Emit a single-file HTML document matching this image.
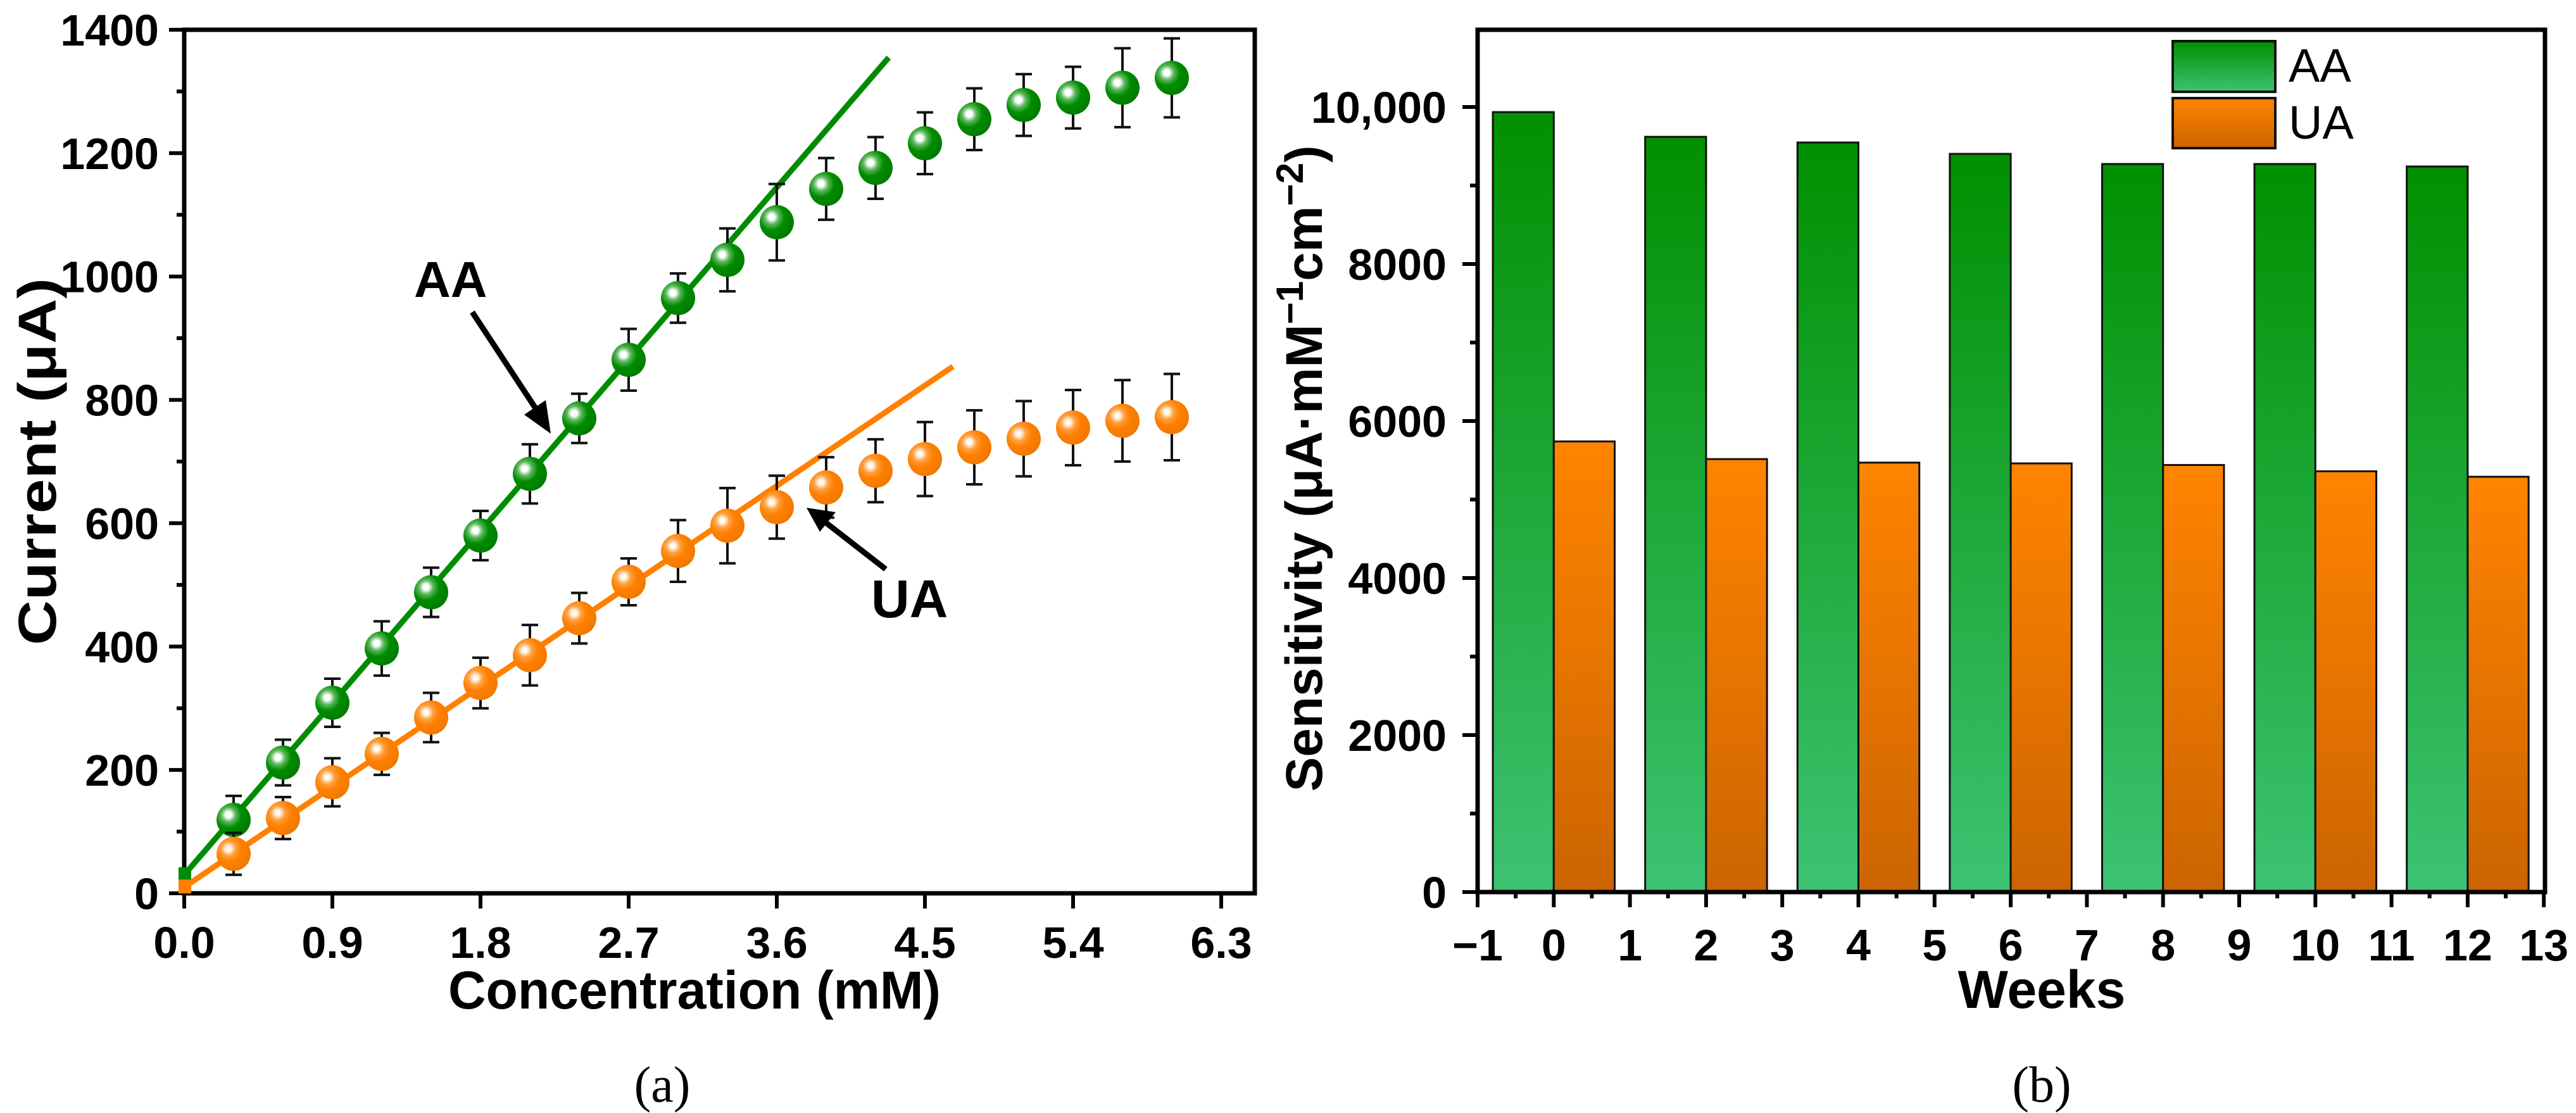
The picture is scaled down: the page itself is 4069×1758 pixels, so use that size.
<!DOCTYPE html>
<html>
<head>
<meta charset="utf-8">
<style>
html,body{margin:0;padding:0;background:#fff;}
svg{display:block;}
text{font-family:"Liberation Sans",Arial,sans-serif;}
</style>
</head>
<body>
<svg id="fig" xmlns="http://www.w3.org/2000/svg" width="4069" height="1758" viewBox="0 0 4069 1758">
<defs>
  <radialGradient id="gBall" cx="0.35" cy="0.35" r="0.7">
    <stop offset="0" stop-color="#ffffff"/>
    <stop offset="0.12" stop-color="#ffffff"/>
    <stop offset="0.3" stop-color="#5cb85c"/>
    <stop offset="0.55" stop-color="#008c00"/>
    <stop offset="1" stop-color="#007a00"/>
  </radialGradient>
  <radialGradient id="oBall" cx="0.35" cy="0.35" r="0.7">
    <stop offset="0" stop-color="#ffffff"/>
    <stop offset="0.12" stop-color="#fff3e0"/>
    <stop offset="0.3" stop-color="#ffa040"/>
    <stop offset="0.55" stop-color="#ff8000"/>
    <stop offset="1" stop-color="#f07800"/>
  </radialGradient>
  <linearGradient id="gBar" x1="0" y1="0" x2="0" y2="1">
    <stop offset="0" stop-color="#009000"/>
    <stop offset="1" stop-color="#3cc373"/>
  </linearGradient>
  <linearGradient id="oBar" x1="0" y1="0" x2="0" y2="1">
    <stop offset="0" stop-color="#ff8400"/>
    <stop offset="1" stop-color="#cc6400"/>
  </linearGradient>
</defs>
<g id="left"></g>
<g id="right"></g>
</svg>
<script>
// ---------- Panel (a) data ----------
const concX = [0,0.3,0.6,0.9,1.2,1.5,1.8,2.1,2.4,2.7,3.0,3.3,3.6,3.9,4.2,4.5,4.8,5.1,5.4,5.7,6.0];
const aaCurrent = [30,119,212,309,397,488,580,680,770,865,965,1027,1088,1142,1176,1216,1255,1278,1290,1306,1322];
const aaErr = [0,39,37,39,44,40,40,48,40,50,40,51,62,50,50,50,50,50,50,64,64];
const uaCurrent = [10,64,122,180,226,285,341,386,446,505,555,596,626,658,685,704,723,737,755,766,772];
const uaErr = [0,34,34,39,34,40,41,49,41,38,50,61,51,49,51,60,60,61,61,66,70];
const aaFit = [[0,30],[4.28,1355]];
const uaFit = [[0,10],[4.67,854]];
const xTicksA = ["0.0","0.9","1.8","2.7","3.6","4.5","5.4","6.3"];
const yTicksA = ["0","200","400","600","800","1000","1200","1400"];

// ---------- Panel (b) data ----------
const weeks = [0,2,4,6,8,10,12];
const aaSens = [9935,9620,9548,9403,9274,9274,9242];
const uaSens = [5740,5515,5470,5460,5440,5360,5290];
const xTicksB = [-1,0,1,2,3,4,5,6,7,8,9,10,11,12,13];
const yTicksB = ["0","2000","4000","6000","8000","10,000"];

const NS = "http://www.w3.org/2000/svg";
function mk(tag, attrs, parent){
  const e = document.createElementNS(NS, tag);
  for (const k in attrs) e.setAttribute(k, attrs[k]);
  parent.appendChild(e);
  return e;
}

// ===== Panel (a) =====
const L = document.getElementById('left');


const ax0 = 291, ay0 = 1411, axEnd = 1982, ayTop = 47;
function XA(v){ return ax0 + v*260; }
function YA(v){ return ay0 - v*(ay0-ayTop)/1400; }

// frame
const frameA = mk('rect', {x:ax0, y:ayTop, width:axEnd-ax0, height:ay0-ayTop, fill:'none', stroke:'#000', 'stroke-width':7}, L);



// y ticks
for (let i=0;i<=14;i++){
  const v=i*100, y=YA(v);
  const major = i%2===0;
  const t = mk('line', {x1:ax0, x2:ax0-(major?24:12), y1:y, y2:y, stroke:'#000', 'stroke-width':6}, L);
  
  
}
yTicksA.forEach((lab,i)=>{
  const v=parseFloat(lab);
  const t = mk('text', {x:ax0-40, y:YA(v)+25, 'font-size':70, 'font-weight':'bold', 'text-anchor':'end'}, L);
  t.textContent = lab;
  
  
});
// x ticks
xTicksA.forEach((lab)=>{
  const v=parseFloat(lab), x=XA(v);
  const t = mk('line', {x1:x, x2:x, y1:ay0, y2:ay0+24, stroke:'#000', 'stroke-width':6}, L);
  
  
  const tl = mk('text', {x:x, y:1513, 'font-size':70, 'font-weight':'bold', 'text-anchor':'middle'}, L);
  tl.textContent = lab;
  
  
});
// axis titles
const xtA = mk('text', {x:1097, y:1593, 'font-size':84, 'font-weight':'bold', 'text-anchor':'middle', textLength:778, lengthAdjust:'spacingAndGlyphs'}, L);
xtA.textContent = 'Concentration (mM)';


const ytA = mk('text', {x:0, y:0, 'font-size':84, 'font-weight':'bold', 'text-anchor':'middle', transform:'translate(88,729) rotate(-90)', textLength:580, lengthAdjust:'spacingAndGlyphs'}, L);
ytA.textContent = 'Current (μA)';


const capA = mk('text', {x:1046, y:1740, 'font-size':80, 'text-anchor':'middle', style:'font-family:"Liberation Serif",serif'}, L);
capA.textContent = '(a)';



// fit lines
const fA = mk('line', {x1:XA(aaFit[0][0]), y1:YA(aaFit[0][1]), x2:XA(aaFit[1][0]), y2:YA(aaFit[1][1]), stroke:'#008c00', 'stroke-width':9}, L);


const fU = mk('line', {x1:XA(uaFit[0][0]), y1:YA(uaFit[0][1]), x2:XA(uaFit[1][0]), y2:YA(uaFit[1][1]), stroke:'#ff8000', 'stroke-width':9}, L);



function series(vals, errs, fill, name, first){
  concX.forEach((c,i)=>{
    const x=XA(c), y=YA(vals[i]);
    if (i===0){
      const m = mk('rect', {x:x-9, y:y-12, width:20, height:22, fill:first}, L);
      
      
      return;
    }
    const e = errs[i]*(ay0-ayTop)/1400;
    const g = mk('g', {stroke:'#111', 'stroke-width':4}, L);
    
    
    mk('line', {x1:x, x2:x, y1:y-e, y2:y+e}, g);
    mk('line', {x1:x-13, x2:x+13, y1:y-e, y2:y-e}, g);
    mk('line', {x1:x-13, x2:x+13, y1:y+e, y2:y+e}, g);
    const c2 = mk('circle', {cx:x, cy:y, r:27, fill:fill}, L);
    
    
  });
}
series(aaCurrent, aaErr, 'url(#gBall)', 'aa', '#008c00');
series(uaCurrent, uaErr, 'url(#oBall)', 'ua', '#ff8000');

// annotations
const aaLab = mk('text', {x:654, y:469, 'font-size':80, 'font-weight':'bold'}, L);
aaLab.textContent = 'AA';


const aaArrow = mk('g', {}, L);


mk('line', {x1:746, y1:493, x2:852, y2:654, stroke:'#000', 'stroke-width':9}, aaArrow);
mk('polygon', {points:'870,685 828,655 862,632', fill:'#000'}, aaArrow);
const uaLab = mk('text', {x:1376, y:975, 'font-size':84, 'font-weight':'bold'}, L);
uaLab.textContent = 'UA';


const uaArrow = mk('g', {}, L);


mk('line', {x1:1399, y1:899, x2:1300, y2:822, stroke:'#000', 'stroke-width':9}, uaArrow);
mk('polygon', {points:'1274,802 1320,809 1295,840', fill:'#000'}, uaArrow);

// ===== Panel (b) =====
const R = document.getElementById('right');


const bx0 = 2334, by0 = 1409, bxEnd = 4020, byTop = 47;
function XB(w){ return bx0 + (w+1)*120.3; }
function YB(s){ return by0 - s*0.124; }

const barW = 0.8;
weeks.forEach((w,i)=>{
  const a = mk('rect', {x:XB(w-barW), y:YB(aaSens[i]), width:XB(w)-XB(w-barW), height:by0-YB(aaSens[i]), fill:'url(#gBar)', stroke:'#111', 'stroke-width':3}, R);
  
  
  const u = mk('rect', {x:XB(w), y:YB(uaSens[i]), width:XB(w+barW)-XB(w), height:by0-YB(uaSens[i]), fill:'url(#oBar)', stroke:'#111', 'stroke-width':3}, R);
  
  
});

const frameB = mk('rect', {x:bx0, y:byTop, width:bxEnd-bx0, height:by0-byTop, fill:'none', stroke:'#000', 'stroke-width':7}, R);



for (let i=0;i<=10;i++){
  const y=YB(i*1000), major=i%2===0;
  const t = mk('line', {x1:bx0, x2:bx0-(major?24:12), y1:y, y2:y, stroke:'#000', 'stroke-width':6}, R);
  
  
}
yTicksB.forEach(lab=>{
  const v=parseFloat(lab.replace(',',''));
  const t = mk('text', {x:2285, y:YB(v)+25, 'font-size':70, 'font-weight':'bold', 'text-anchor':'end'}, R);
  t.textContent = lab;
  
  
});
for (let i=0;i<=28;i++){
  const w=-1+i*0.5, x=XB(w), major=i%2===0;
  const t = mk('line', {x1:x, x2:x, y1:by0, y2:by0+(major?24:10), stroke:'#000', 'stroke-width':6}, R);
  
  
}
xTicksB.forEach(w=>{
  const t = mk('text', {x:XB(w), y:1517, 'font-size':70, 'font-weight':'bold', 'text-anchor':'middle'}, R);
  t.textContent = w<0 ? '\u2212'+Math.abs(w) : String(w);
  
  
});
const xtB = mk('text', {x:3225, y:1592, 'font-size':84, 'font-weight':'bold', 'text-anchor':'middle'}, R);
xtB.textContent = 'Weeks';


const ytB = mk('text', {x:0, y:0, 'font-size':82, 'font-weight':'bold', 'text-anchor':'middle', transform:'translate(2088,740) rotate(-90)'}, R);


ytB.innerHTML = 'Sensitivity (μA·mM<tspan dy="-30" font-size="60">−1</tspan><tspan dy="30">cm</tspan><tspan dy="-30" font-size="60">−2</tspan><tspan dy="30">)</tspan>';
const capB = mk('text', {x:3225, y:1740, 'font-size':80, 'text-anchor':'middle', style:'font-family:"Liberation Serif",serif'}, R);
capB.textContent = '(b)';



// legend
const lg = mk('g', {}, R);


const lgA = mk('rect', {x:3432, y:65, width:162, height:80, fill:'url(#gBar)', stroke:'#111', 'stroke-width':4}, lg);


const lgAt = mk('text', {x:3615, y:129, 'font-size':74}, lg);
lgAt.textContent = 'AA';


const lgU = mk('rect', {x:3432, y:155, width:162, height:79, fill:'url(#oBar)', stroke:'#111', 'stroke-width':4}, lg);


const lgUt = mk('text', {x:3615, y:219, 'font-size':74}, lg);
lgUt.textContent = 'UA';


</script>
</body>
</html>
